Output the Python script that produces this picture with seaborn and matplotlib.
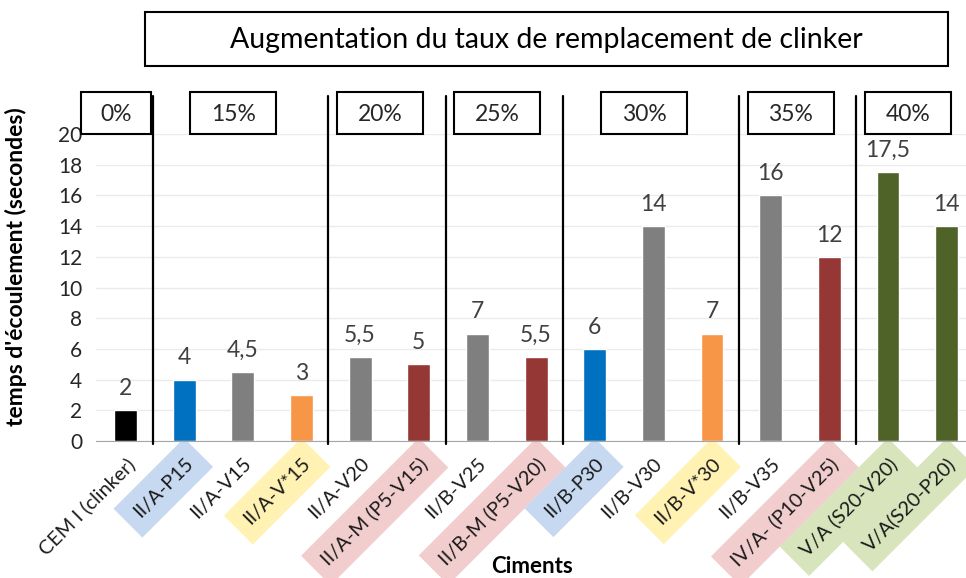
import numpy as np
import pandas as pd
import seaborn as sns
import matplotlib.pyplot as plt
from matplotlib.patches import Rectangle
import matplotlib.transforms as mtransforms

categories = ["CEM I (clinker)", "II/A-P15", "II/A-V15", "II/A-V*15", "II/A-V20",
              "II/A-M (P5-V15)", "II/B-V25", "II/B-M (P5-V20)", "II/B-P30", "II/B-V30",
              "II/B-V*30", "II/B-V35", "IV/A- (P10-V25)", "V/A (S20-V20)", "V/A(S20-P20)"]
values = [2, 4, 4.5, 3, 5.5, 5, 7, 5.5, 6, 14, 7, 16, 12, 17.5, 14]
value_labels = ["2", "4", "4,5", "3", "5,5", "5", "7", "5,5", "6", "14", "7", "16", "12", "17,5", "14"]
bar_colors = ["#000000", "#0070c0", "#7f7f7f", "#f79646", "#7f7f7f",
              "#953735", "#7f7f7f", "#953735", "#0070c0", "#7f7f7f",
              "#f79646", "#7f7f7f", "#953735", "#4f6228", "#4f6228"]
label_bg = [None, "#c6d9f0", None, "#fff2b3", None,
            "#f2cdcd", None, "#f2cdcd", "#c6d9f0", None,
            "#fff2b3", None, "#f2cdcd", "#d8e4bc", "#d8e4bc"]
groups = ["0%", "15%", "20%", "25%", "30%", "35%", "40%"]
group_start = [0, 1, 4, 6, 8, 11, 13]
group_end = [0, 3, 5, 7, 10, 12, 14]
title = "Augmentation du taux de remplacement de clinker"
ylabel = "temps d'écoulement (secondes)"
xlabel = "Ciments"
yticks = list(range(0, 21, 2))

sns.set_style("white")
plt.rcParams['font.family'] = ['Lato', 'DejaVu Sans']

W, H = 966, 578
fig = plt.figure(figsize=(W / 100, H / 100), dpi=100)
ax_l, ax_r, ax_b, ax_t = 96.2, 976.0, 441.0, 134.0
ax = fig.add_axes([ax_l / W, 1 - ax_b / H, (ax_r - ax_l) / W, (ax_b - ax_t) / H])

df = pd.DataFrame({"cat": categories, "val": values})
sns.barplot(data=df, x="cat", y="val", hue="cat", palette=bar_colors,
            legend=False, width=0.39, ax=ax, saturation=1)

ax.set_xlim(-0.5, len(categories) - 0.5)
ax.set_ylim(0, 20)
ax.set_yticks(yticks)
ax.set_yticklabels([str(t) for t in yticks], fontsize=15, color="#262626")
ax.yaxis.grid(True, color="#ebebeb", linewidth=1)
ax.set_axisbelow(True)
for s in ["top", "right", "left"]:
    ax.spines[s].set_visible(False)
ax.spines["bottom"].set_color("#a6a6a6")
ax.tick_params(axis="y", length=6, color="#ebebeb", pad=4)

# x tick labels
ax.set_xticks(range(len(categories)))
ax.set_xticklabels(categories, rotation=45, ha="right", va="top",
                   rotation_mode="anchor", fontsize=14.3, color="#1a1a1a")
ax.tick_params(axis="x", which="major", length=0, pad=10)
ax.set_xticks(np.arange(-0.5, len(categories), 1), minor=True)
ax.tick_params(axis="x", which="minor", length=6, color="#a6a6a6", width=1)
for lab, bg in zip(ax.get_xticklabels(), label_bg):
    if bg:
        lab.set_bbox(dict(facecolor=bg, edgecolor="none", boxstyle="square,pad=0.6"))

ax.set_xlabel("")
ax.set_ylabel(ylabel, fontsize=16.5, fontweight="bold", color="#000000")
ax.yaxis.set_label_coords((27 - ax_l) / (ax_r - ax_l), (ax_b - 267) / (ax_b - ax_t))
fig.text(532 / W, 1 - 556 / H, xlabel, ha="center", va="top", fontsize=16,
         fontweight="bold", color="#000000")

# value labels
for cont, lab in zip(ax.containers, value_labels):
    ax.bar_label(cont, labels=[lab], padding=8, fontsize=16.5, color="#404040")

# separator lines
trans = mtransforms.blended_transform_factory(ax.transData, ax.transAxes)
for ge in group_end[:-1]:
    xb = ge + 0.5 - 0.04
    ax.plot([xb, xb], [-0.01, 1.125], transform=trans, color="black",
            linewidth=1.6, clip_on=False, zorder=5)

# group boxes
box_y0, box_y1 = 1.0, (ax_b - 92) / (ax_b - ax_t)
for g, s, e in zip(groups, group_start, group_end):
    c = (s + e) / 2 - 0.16
    w = 1.19 if s == e else 1.465
    rect = Rectangle((c - w / 2, box_y0), w, box_y1 - box_y0, transform=trans,
                     facecolor="white", edgecolor="black", linewidth=1.5,
                     clip_on=False, zorder=6)
    ax.add_patch(rect)
    ax.text(c, (box_y0 + box_y1) / 2 - 0.005, g, transform=trans, ha="center", va="center",
            fontsize=16.5, color="#262626", zorder=7)

# title box
fig.patches.append(Rectangle((145 / W, 1 - 66 / H), (948 - 145) / W, 54 / H,
                             transform=fig.transFigure, facecolor="white",
                             edgecolor="black", linewidth=1.5))
fig.text((145 + 948) / 2 / W, 1 - 40 / H, title, ha="center", va="center",
         fontsize=20.5, color="#000000")

fig.savefig("out.png", dpi=100)
